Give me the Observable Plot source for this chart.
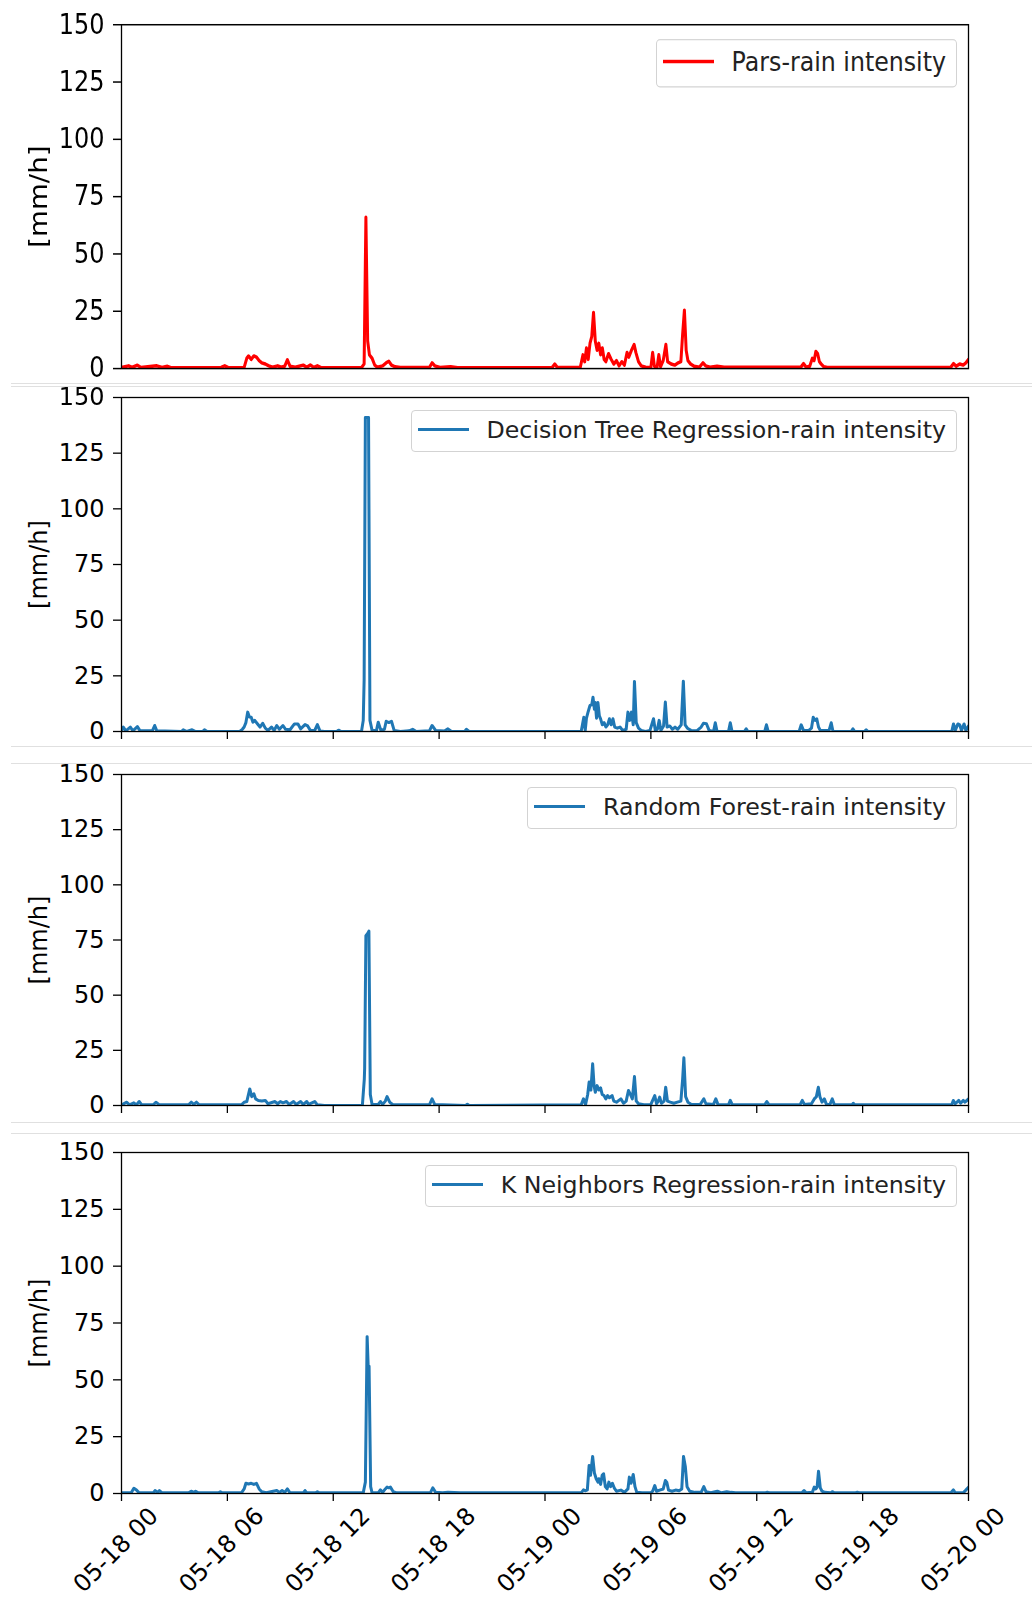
<!DOCTYPE html>
<html>
<head>
<meta charset="utf-8">
<script src="https://cdn.jsdelivr.net/npm/d3@7"></script>
<script src="https://cdn.jsdelivr.net/npm/@observablehq/plot@0.6"></script>
<style>
  body { margin: 0; background: #fff; }
  #root { position: relative; width: 1032px; height: 1600px; overflow: hidden; font-family: "DejaVu Sans", sans-serif; }
  .panel { position: absolute; left: 0; width: 1032px; }
  .panel svg { display: block; overflow: visible; }
  .sep { position: absolute; left: 11px; right: 0; height: 1px; background: #e0e0e0; }
  .legend { position: absolute; right: 75px; height: 42px; box-sizing: border-box; border: 1.5px solid #d3d3d3; border-radius: 4px; background: #fff; display: flex; align-items: center; padding: 0 10px 0 6px; font-family: "DejaVu Sans", sans-serif; font-size: 23.7px; color: #222; }
  .swatch { display: block; width: 51px; height: 3px; margin-right: 18px; margin-top: -3px; }
  .ltext { line-height: 1; white-space: nowrap; }
</style>
</head>
<body>
<div id="root"></div>
<script>
// ---------------- data (hours after 05-18 00:00, rain intensity mm/h) ----------------
const seriesNames = [
  "Pars-rain intensity",
  "Decision Tree Regression-rain intensity",
  "Random Forest-rain intensity",
  "K Neighbors Regression-rain intensity"
];
const seriesColors = ["#ff0000", "#1f77b4", "#1f77b4", "#1f77b4"];
const yTicks = [0, 25, 50, 75, 100, 125, 150];
const tickHours = [0, 6, 12, 18, 24, 30, 36, 42, 48];
const tickLabels = ["05-18 00", "05-18 06", "05-18 12", "05-18 18", "05-19 00", "05-19 06", "05-19 12", "05-19 18", "05-20 00"];
const yLabel = "[mm/h]";

const parsRain = [
  [0,0.5],[0.4,1.2],[0.6,0.5],[0.9,1.5],[1.1,0.5],[2.0,1.2],[2.3,0.5],[2.6,1.0],[2.8,0.4],[5.65,0.5],[5.85,1.2],[6.05,0.4],
  [6.95,0.5],[7.1,4.5],[7.2,5.5],[7.35,4],[7.5,5.5],[7.65,5],[7.8,3.5],[7.95,2.5],[8.15,2],[8.35,1.2],[8.55,0.6],[8.85,1.2],[9.05,0.6],[9.25,1.0],[9.4,3.8],[9.55,1.0],[9.85,0.6],[10.3,1.5],[10.5,0.6],[10.7,1.6],[10.9,0.5],[11.1,1.2],[11.3,0.4],
  [13.6,0.4],[13.75,2],[13.85,66],[13.95,12],[14.05,6],[14.2,4.5],[14.35,1.5],[14.5,0.6],[14.8,1.2],[15.0,2.5],[15.15,3.2],[15.3,1.5],[15.5,0.8],[15.8,0.5],
  [17.45,0.5],[17.6,2.5],[17.75,1.2],[18.05,0.5],[18.65,0.8],[19.05,0.4],
  [24.4,0.4],[24.55,2.0],[24.7,0.5],
  [26.0,0.5],[26.15,6],[26.25,3],[26.35,9],[26.45,4],[26.55,11],[26.65,14],[26.75,24.5],[26.85,12],[26.95,8],[27.05,11],[27.15,6],[27.25,9],[27.35,4],[27.45,3],[27.6,6.5],[27.75,4],[27.9,2],[28.05,3.5],[28.2,1.2],[28.35,3],[28.5,1.5],[28.65,7],[28.75,5],[28.9,8],[29.05,10.5],[29.15,7],[29.3,3],[29.45,1.2],[29.7,0.6],
  [30.0,0.5],[30.1,7],[30.2,1],[30.35,0.5],[30.45,6],[30.55,0.8],[30.7,3.5],[30.85,10.5],[30.95,3],[31.15,2],[31.35,1.5],[31.55,2.5],[31.7,3],[31.8,15],[31.9,25.5],[32.0,8],[32.1,3.5],[32.25,2],[32.45,1],[32.75,0.6],[32.95,2.5],[33.1,1.2],[33.35,0.6],[33.75,1.0],[34.15,0.6],
  [38.5,0.6],[38.65,2.2],[38.8,0.6],[39.0,1],[39.15,4.5],[39.25,3.5],[39.35,7.5],[39.45,6.5],[39.55,3],[39.65,2],[39.8,0.8],[40.0,0.5],
  [47.0,0.6],[47.15,2.2],[47.3,1.0],[47.5,2],[47.7,1.5],[47.85,2.5],[48,4]
];

const decisionTree = [
  [0,0.3],[0.1,2],[0.25,0.3],[0.5,2],[0.65,0.3],[0.9,2.2],[1.05,0.3],[1.75,0.3],[1.88,2.7],[2.0,0.3],
  [3.4,0],[3.5,0.8],[3.7,0],[4.0,0.8],[4.2,0],[4.6,0],[4.7,0.8],[4.85,0],
  [6.7,0],[6.85,1],[6.95,2],[7.05,4],[7.15,8.7],[7.25,6.5],[7.35,6.4],[7.45,4.2],[7.55,5],[7.7,3.5],[7.85,2],[8.0,3.7],[8.15,1.5],[8.3,0.5],[8.5,2],[8.65,0.5],[8.8,2.7],[8.95,1],[9.15,2.7],[9.3,1],[9.55,0.8],[9.8,3.4],[10.0,3.4],[10.15,1.2],[10.4,3.1],[10.55,2.5],[10.7,0.5],[10.95,0.5],[11.1,3.1],[11.25,0.2],[11.5,0],[12.2,0],[12.3,0.6],[12.45,0],
  [13.6,0],[13.7,5],[13.75,23],[13.82,141],[14.0,141],[14.08,5],[14.2,0.5],[14.45,0.5],[14.55,4.2],[14.7,0.5],[14.9,1],[15.0,4.6],[15.15,4],[15.3,4.6],[15.45,0.5],[15.8,0],
  [16.3,0.3],[16.5,1],[16.7,0],[17.45,0.3],[17.6,2.7],[17.8,0.5],[18.3,0.2],[18.5,1.2],[18.7,0],[19.45,0],[19.55,1],[19.7,0],
  [26.05,0],[26.2,6.4],[26.28,0.5],[26.35,6],[26.45,9],[26.55,11.7],[26.65,12],[26.72,15.4],[26.8,10],[26.85,13],[26.92,6],[27.0,13],[27.08,7],[27.15,5.7],[27.25,3],[27.35,4],[27.45,2],[27.55,3],[27.65,5.7],[27.75,3],[27.85,5.7],[27.95,2],[28.1,1.5],[28.25,2],[28.4,0.5],[28.6,1],[28.7,8.7],[28.8,5],[28.9,8.7],[29.0,3],[29.07,22.5],[29.17,4],[29.3,1.5],[29.45,0.5],[29.7,0],
  [29.95,0.5],[30.15,5.7],[30.25,0.5],[30.37,1],[30.47,5],[30.57,0.5],[30.72,2.5],[30.82,13.2],[30.92,2],[31.07,2.5],[31.22,1],[31.37,2],[31.52,1],[31.72,3],[31.84,22.6],[31.94,3],[32.07,1.5],[32.27,0.5],[32.6,0.3],[32.85,2],[32.98,3.7],[33.15,3.5],[33.3,0.5],[33.55,0],[33.65,3.9],[33.75,0],[34.4,0],[34.5,3.9],[34.6,0],[35.3,0],[35.4,1.2],[35.5,0],[36.45,0],[36.55,3],[36.65,0],
  [38.4,0],[38.52,3],[38.65,0.5],[38.95,0.5],[39.1,1.5],[39.2,6.4],[39.3,5],[39.4,5.7],[39.5,2],[39.6,0.5],[39.85,0.5],[40.1,0.5],[40.22,3.9],[40.32,0],[41.35,0],[41.45,1.2],[41.55,0],[42.1,0],[42.2,0.8],[42.3,0],
  [47.05,0],[47.15,3.4],[47.25,0.5],[47.4,3.4],[47.5,3],[47.6,0.5],[47.75,3.4],[47.85,0.5],[48,2.5]
];

const randomForest = [
  [0,0.3],[0.3,1.5],[0.45,0.3],[0.7,1.2],[0.85,0.3],[1.0,1.8],[1.15,0.3],[1.8,0.3],[1.95,1.5],[2.15,0.3],[3.8,0.3],[3.95,1.5],[4.1,0.5],[4.25,1.5],[4.4,0.3],
  [6.8,0.3],[6.95,1.5],[7.1,1.8],[7.27,7.5],[7.38,4],[7.5,5.3],[7.6,3],[7.75,2.3],[7.95,2],[8.15,2.3],[8.3,0.8],[8.7,1.8],[8.85,0.8],[9.0,1.8],[9.15,1.2],[9.35,1.8],[9.5,0.5],[9.75,1.8],[9.9,0.5],[10.15,1.8],[10.3,0.5],[10.5,1.8],[10.6,0.5],[10.95,1.8],[11.1,0.3],[11.5,0],
  [13.65,0],[13.76,12],[13.78,17],[13.85,77],[13.95,78],[14.02,79],[14.1,5],[14.2,0.5],[14.55,0.5],[14.67,1.8],[14.8,0.5],[14.95,2],[15.05,4],[15.2,1.5],[15.4,0.3],
  [17.45,0.3],[17.6,3],[17.75,0.5],[19.5,0],[19.6,0.6],[19.7,0],
  [26.05,0.3],[26.18,3],[26.3,0.5],[26.42,5],[26.5,10.6],[26.6,7],[26.7,18.9],[26.78,9],[26.85,6],[26.95,9],[27.05,7],[27.15,8],[27.24,5],[27.34,4.5],[27.45,3],[27.55,4.5],[27.65,3.5],[27.8,4.5],[27.9,2],[28.05,1.5],[28.3,3],[28.45,1],[28.6,2],[28.73,6.8],[28.84,5],[28.95,3],[29.07,13.1],[29.17,2],[29.3,0.8],[29.6,0.3],
  [30.0,0.5],[30.22,4.5],[30.32,0.8],[30.42,2],[30.5,3.8],[30.6,1],[30.75,2],[30.84,8.3],[30.94,2],[31.1,1.5],[31.3,1],[31.5,1.5],[31.7,2],[31.8,12],[31.87,21.6],[31.97,4],[32.1,1.5],[32.3,0.5],[32.8,0.5],[33.0,3],[33.12,0.8],[33.55,0.5],[33.68,3],[33.8,0.5],[34.4,0.3],[34.5,2.3],[34.62,0.3],[36.45,0.3],[36.57,1.8],[36.7,0.3],
  [38.45,0.3],[38.58,2.3],[38.7,0.5],[39.1,0.8],[39.26,3],[39.38,4],[39.49,8.3],[39.58,4],[39.7,1.5],[39.83,3],[39.95,0.5],[40.15,0.5],[40.28,3],[40.4,0.3],[41.4,0.3],[41.47,1],[41.55,0.3],
  [47.05,0.3],[47.14,2.3],[47.25,0.8],[47.45,2.3],[47.55,1],[47.7,2.3],[47.8,1.5],[48,3]
];

const kNeighbors = [
  [0,0.3],[0.55,0.3],[0.7,2.3],[0.85,1.5],[1.0,0.3],[1.8,0.3],[1.9,1.3],[2.05,0.5],[2.15,1.3],[2.3,0.3],[3.8,0.3],[3.95,1],[4.1,0.5],[4.2,1],[4.35,0.3],[5.5,0.3],[5.6,0.8],[5.7,0.3],
  [6.8,0.3],[6.95,2],[7.05,4.5],[7.2,4.2],[7.35,4.5],[7.5,4],[7.65,4.5],[7.8,2],[7.95,0.8],[8.2,0.3],[8.8,1.3],[8.95,0.5],[9.1,1.3],[9.25,0.5],[9.4,2],[9.55,0.3],[10.3,0.3],[10.4,1.3],[10.5,0.3],[11.0,0.3],[11.1,0.8],[11.2,0.3],
  [13.7,0.3],[13.82,5],[13.92,69],[13.98,56],[14.03,56],[14.12,3],[14.2,0.3],[14.55,0.3],[14.67,1.6],[14.8,0.5],[14.95,2],[15.05,2.8],[15.15,2.5],[15.24,2.8],[15.4,0.8],[15.6,0.3],
  [17.5,0.3],[17.64,2.5],[17.8,0.5],[18.2,0.3],[18.5,0.6],[19.2,0.3],
  [26.05,0.3],[26.18,1.6],[26.3,1.2],[26.4,1.6],[26.5,12.3],[26.58,8],[26.7,16.3],[26.8,9],[26.9,6.5],[27.0,5],[27.05,6.5],[27.15,4],[27.24,8],[27.32,8.7],[27.42,3],[27.52,2],[27.62,5],[27.72,3],[27.82,4.5],[27.92,2.5],[28.05,1],[28.3,1.5],[28.5,0.5],[28.7,2],[28.78,7.2],[28.88,4.5],[29.0,8.4],[29.1,3],[29.2,0.5],[29.5,0.3],
  [30.0,0.3],[30.1,1],[30.22,3.5],[30.32,1],[30.5,1.5],[30.7,2],[30.82,5.7],[30.9,5],[31.0,1.5],[31.2,1],[31.4,1.5],[31.6,1.2],[31.75,2],[31.85,16.3],[31.95,12],[32.05,3],[32.2,1],[32.5,0.5],[32.85,0.5],[33.0,3],[33.12,0.8],[33.4,0.3],[33.77,1],[34.0,0.3],[34.3,0.8],[34.54,0.5],[34.8,0.3],[36.5,0.3],[36.6,0.6],[36.7,0.3],
  [38.55,0.3],[38.68,1.3],[38.8,0.3],[39.15,0.5],[39.26,2.8],[39.35,2],[39.42,2.8],[39.5,9.8],[39.6,2.5],[39.7,1],[39.85,0.5],[40.2,0.3],[40.28,0.8],[40.4,0.3],[41.6,0.3],[41.7,0.6],[41.8,0.3],
  [47.0,0.3],[47.14,1.6],[47.25,0.3],[47.7,0.3],[47.85,1.5],[48,2.8]
];

// ---------------- layout ----------------
const start = Date.UTC(2018, 4, 18, 0, 0);
const toDate = h => new Date(start + h * 3600e3);
const tickDates = tickHours.map(toDate);

const panels = [
  {data: parsRain,      top: 0,    height: 333, mt: 21, mb: 13,  scaleY: 1.15, xTicks: false, xLabels: false, legendTop: 34},
  {data: decisionTree,  top: 387,  height: 359, mt: 10, mb: 15,  scaleY: 1,    xTicks: true,  xLabels: false, legendTop: 23},
  {data: randomForest,  top: 764,  height: 358, mt: 10, mb: 17,  scaleY: 1,    xTicks: true,  xLabels: false, legendTop: 23},
  {data: kNeighbors,    top: 1134, height: 466, mt: 18, mb: 107, scaleY: 1,    xTicks: true,  xLabels: true,  legendTop: 31}
];
const sepLines = [383, 386, 746, 763, 1122, 1133];

const root = document.getElementById("root");

panels.forEach((p, k) => {
  const rows = p.data.map(([h, v]) => ({t: toDate(h), v}));
  const marks = [
    Plot.lineY(rows, {x: "t", y: "v", stroke: seriesColors[k], strokeWidth: 3, strokeLinejoin: "round", clip: true}),
    Plot.frame({stroke: "black", strokeWidth: 1.3}),
    Plot.axisY({ticks: yTicks, tickSize: 8, tickPadding: 9, label: null, strokeWidth: 1.3, fill: "black"}),
    Plot.text([yLabel], {frameAnchor: "left", text: d => d, rotate: -90, textAnchor: "middle", dx: -82, fill: "black"})
  ];
  if (p.xTicks) {
    marks.push(Plot.axisX({ticks: tickDates, tickSize: 8, tickFormat: () => "", label: null, strokeWidth: 1.3}));
  }
  if (p.xLabels) {
    marks.push(Plot.text(tickDates, {x: d => d, frameAnchor: "bottom", text: (d, i) => tickLabels[i], rotate: -45, textAnchor: "end", dx: 38, dy: 24, fill: "black"}));
  }
  const chart = Plot.plot({
    width: 1032,
    height: p.height,
    marginLeft: 121,
    marginRight: 64,
    marginTop: p.mt,
    marginBottom: p.mb,
    x: {type: "utc", domain: [toDate(0), toDate(48)], axis: null},
    y: {domain: [0, 150], axis: null},
    style: {fontFamily: "DejaVu Sans, sans-serif", fontSize: "24px", color: "black", background: "transparent", overflow: "visible"},
    marks
  });

  const wrap = document.createElement("div");
  wrap.className = "panel";
  wrap.style.top = p.top + "px";
  wrap.style.height = p.height + "px";
  if (p.scaleY !== 1) {
    wrap.style.transform = `scaleY(${p.scaleY})`;
    wrap.style.transformOrigin = "0 0";
  }
  wrap.appendChild(chart);

  const lg = document.createElement("div");
  lg.className = "legend";
  lg.style.top = p.legendTop + "px";
  const sw = document.createElement("span");
  sw.className = "swatch";
  sw.style.background = seriesColors[k];
  const tx = document.createElement("span");
  tx.className = "ltext";
  tx.textContent = seriesNames[k];
  lg.appendChild(sw);
  lg.appendChild(tx);
  wrap.appendChild(lg);

  root.appendChild(wrap);
});

sepLines.forEach(y => {
  const s = document.createElement("div");
  s.className = "sep";
  s.style.top = y + "px";
  root.appendChild(s);
});
</script>
</body>
</html>
